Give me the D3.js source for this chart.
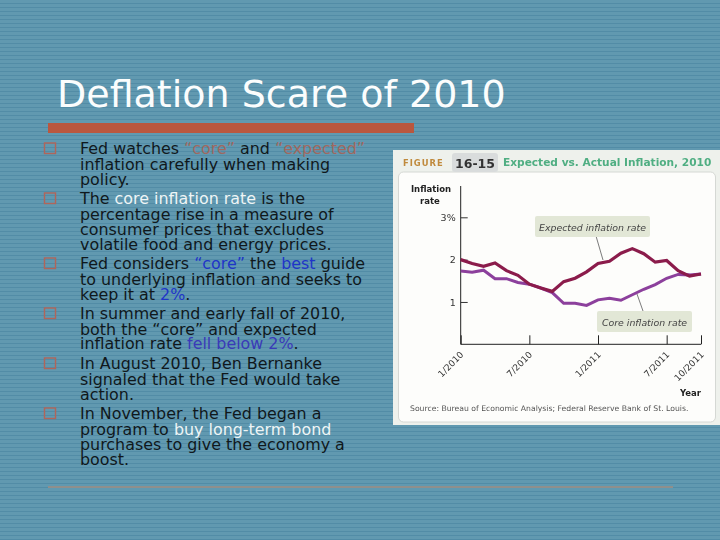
<!DOCTYPE html>
<html><head><meta charset="utf-8">
<script src="https://cdn.jsdelivr.net/npm/d3@7/dist/d3.min.js"></script>
<style>html,body{margin:0;padding:0;background:#5f98ae;overflow:hidden}svg{display:block}text{font-family:"DejaVu Sans",sans-serif}</style>
</head><body><svg id="c" width="720" height="540"></svg>
<script>
const titleText = "Deflation Scare of 2010";
const months = d3.range(0, 22);
const expected = [2.0,1.91,1.84,1.92,1.74,1.63,1.42,1.33,1.25,1.48,1.56,1.71,1.91,1.96,2.15,2.26,2.14,1.94,1.98,1.74,1.61,1.66];
const core = [1.73,1.70,1.75,1.55,1.55,1.46,1.42,1.33,1.22,0.97,0.97,0.92,1.05,1.09,1.04,1.17,1.30,1.41,1.56,1.65,1.64,1.66];
const xTickMonths = [0,6,12,18,21];
const xTickLabels = ["1/2010","7/2010","1/2011","7/2011","10/2011"];
const yTickValues = [1,2,3];
const yTickLabels = ["1","2","3%"];
const K="#10181c", W="#eef5f6", B="#1f35c8", R="#a0685f", V="#3a3ab8";
const bullets = [
 [[["Fed watches ",K],["“core”",R],[" and ",K],["“expected”",R]],[["inflation carefully when making",K]],[["policy.",K]]],
 [[["The ",K],["core inflation rate",W],[" is the",K]],[["percentage rise in a measure of",K]],[["consumer prices that excludes",K]],[["volatile food and energy prices.",K]]],
 [[["Fed considers ",K],["“core”",B],[" the ",K],["best",B],[" guide",K]],[["to underlying inflation and seeks to",K]],[["keep it at ",K],["2%",B],[".",K]]],
 [[["In summer and early fall of 2010,",K]],[["both the “core” and expected",K]],[["inflation rate ",K],["fell below 2%",V],[".",K]]],
 [[["In August 2010, Ben Bernanke",K]],[["signaled that the Fed would take",K]],[["action.",K]]],
 [[["In November, the Fed began a",K]],[["program to ",K],["buy long-term bond",W]],[["purchases to give the economy a",K]],[["boost.",K]]]
];
const baselines = [[154,170,185],[204,220,235,250],[269,285,300],[319,335,349],[369,385,400],[419,435,450,465]];

const svg = d3.select("#c");
const defs = svg.append("defs");
const pat = defs.append("pattern").attr("id","st").attr("width",4).attr("height",4).attr("patternUnits","userSpaceOnUse");
pat.append("rect").attr("width",4).attr("height",4).attr("fill","#6199b0");
pat.append("rect").attr("y",3).attr("width",4).attr("height",1).attr("fill","#528ca6");
defs.append("filter").attr("id","soft").append("feGaussianBlur").attr("stdDeviation",0.45);
svg.append("rect").attr("width",720).attr("height",540).attr("fill","url(#st)");

svg.append("text").attr("x",57).attr("y",107).attr("font-size",38).attr("fill","#fbfdfd").text(titleText);
svg.append("rect").attr("x",48).attr("y",123).attr("width",366).attr("height",10).attr("fill","#b9573f");
svg.append("rect").attr("x",48).attr("y",486).attr("width",625).attr("height",2).attr("fill","#8f8f8c");

bullets.forEach((lines,i)=>{
  svg.append("rect").attr("x",44.5).attr("y",baselines[i][0]-11).attr("width",11).attr("height",10.5)
    .attr("fill","none").attr("stroke","#b0655a").attr("stroke-width",1.4);
  lines.forEach((runs,j)=>{
    const t = svg.append("text").attr("x",80).attr("y",baselines[i][j]).attr("font-size",15.9).attr("xml:space","preserve");
    runs.forEach(r=>t.append("tspan").attr("fill",r[1]).text(r[0]));
  });
});

// figure
const fig = svg.append("g").attr("filter","url(#soft)");
fig.append("rect").attr("x",393).attr("y",150).attr("width",327).attr("height",275).attr("fill","#eef1ec");
fig.append("rect").attr("x",398.5).attr("y",172).attr("width",317).attr("height",250).attr("rx",5).attr("fill","#fdfdfb").attr("stroke","#d5d8d4");
fig.append("rect").attr("x",452).attr("y",153).attr("width",46).attr("height",19).attr("rx",3).attr("fill","#d9dcdc");
fig.append("text").attr("x",403).attr("y",166).attr("font-size",8.4).attr("font-weight","bold").attr("fill","#c08a3c").attr("letter-spacing",1).text("FIGURE");
fig.append("text").attr("x",455).attr("y",168).attr("font-size",12.5).attr("font-weight","bold").attr("fill","#333").text("16-15");
fig.append("text").attr("x",503).attr("y",166).attr("font-size",10.6).attr("font-weight","bold").attr("fill","#4fae82").text("Expected vs. Actual Inflation, 2010");

const x = d3.scaleLinear().domain([0,21]).range([460.7,701]);
const y = d3.scaleLinear().domain([0,3]).range([344.3,217.3]);
const ax = d3.axisBottom(x).tickValues(xTickMonths).tickSize(-9).tickFormat((d,i)=>xTickLabels[i]);
const gx = fig.append("g").attr("transform","translate(0,344.3)").call(ax);
gx.select(".domain").attr("stroke","#222").attr("d",`M460.7,0H701`);
gx.selectAll("line").attr("stroke","#222");
gx.selectAll("text").attr("font-size",9).attr("fill","#333").attr("text-anchor","end")
  .attr("transform","translate(-3,5) rotate(-45)").attr("dy",".6em").attr("x",0).attr("y",3);
const ay = d3.axisLeft(y).tickValues(yTickValues).tickSize(-7).tickPadding(5).tickFormat((d,i)=>yTickLabels[i]);
const gy = fig.append("g").attr("transform","translate(460.7,0)").call(ay);
gy.select(".domain").attr("stroke","#222").attr("d","M0,344.3V186");
gy.selectAll("line").attr("stroke","#333");
gy.selectAll("text").attr("font-size",9.5).attr("fill","#333");
fig.append("text").attr("x",431).attr("y",192).attr("text-anchor","middle").attr("font-size",8.5).attr("font-weight","bold").attr("fill","#222").text("Inflation");
fig.append("text").attr("x",430).attr("y",204).attr("text-anchor","middle").attr("font-size",8.5).attr("font-weight","bold").attr("fill","#222").text("rate");
fig.append("text").attr("x",701).attr("y",396).attr("text-anchor","end").attr("font-size",8.5).attr("font-weight","bold").attr("fill","#222").text("Year");
fig.append("text").attr("x",410).attr("y",411).attr("font-size",7.7).attr("fill","#555").text("Source: Bureau of Economic Analysis; Federal Reserve Bank of St. Louis.");

const line = d3.line().x((d,i)=>x(months[i])).y(d=>y(d));
fig.append("line").attr("x1",596).attr("y1",236).attr("x2",603).attr("y2",260).attr("stroke","#444").attr("stroke-width",.7);
fig.append("line").attr("x1",637).attr("y1",294).attr("x2",643).attr("y2",311).attr("stroke","#444").attr("stroke-width",.7);
fig.append("path").attr("d",line(core)).attr("fill","none").attr("stroke","#8c3f9c").attr("stroke-width",3);
fig.append("path").attr("d",line(expected)).attr("fill","none").attr("stroke","#8b1a4b").attr("stroke-width",3.2);

[[535,216,115,21,"Expected inflation rate"],[597,311,95,21,"Core inflation rate"]].forEach(l=>{
  fig.append("rect").attr("x",l[0]).attr("y",l[1]).attr("width",l[2]).attr("height",l[3]).attr("rx",2).attr("fill","#e2e7d6");
  fig.append("text").attr("x",l[0]+l[2]/2).attr("y",l[1]+14.5).attr("text-anchor","middle").attr("font-size",9.4).attr("font-style","italic").attr("fill","#444").text(l[4]);
});
</script></body></html>
